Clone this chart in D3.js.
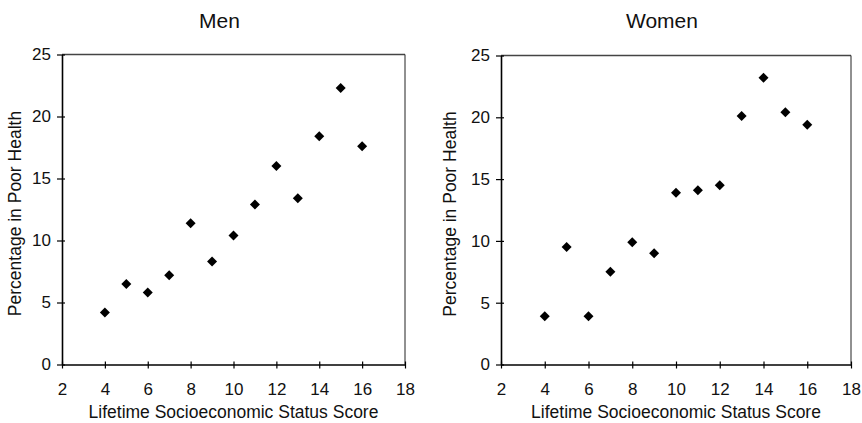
<!DOCTYPE html>
<html>
<head>
<meta charset="utf-8">
<script src="https://cdn.jsdelivr.net/npm/d3@7"></script>
<style>
  html, body { margin: 0; padding: 0; background: #fff; }
  svg { display: block; font-family: "Liberation Sans", Arial, Helvetica, sans-serif; }
</style>
</head>
<body>
<svg id="chart" width="862" height="423"></svg>
<script>
// Lifetime socioeconomic status score (x) for each group
const scores = [4, 5, 6, 7, 8, 9, 10, 11, 12, 13, 14, 15, 16];
// Percentage in poor health, men
const menPct = [4.2, 6.5, 5.8, 7.2, 11.4, 8.3, 10.4, 12.9, 16.0, 13.4, 18.4, 22.3, 17.6];
// Percentage in poor health, women
const womenPct = [3.9, 9.5, 3.9, 7.5, 9.9, 9.0, 13.9, 14.1, 14.5, 20.1, 23.2, 20.4, 19.4];
// Axis ticks
const xTicks = [2, 4, 6, 8, 10, 12, 14, 16, 18];
const yTicks = [0, 5, 10, 15, 20, 25];
const titles = ["Men", "Women"];
const xLabel = "Lifetime Socioeconomic Status Score";
const yLabel = "Percentage in Poor Health";

const svg = d3.select("#chart");

// plot-area geometry for the two panels
const panels = [
  { title: titles[0], values: menPct,   left: 62,  right: 405, top: 54.5, bottom: 364.5, yLabelX: 21 },
  { title: titles[1], values: womenPct, left: 501, right: 851, top: 55.5, bottom: 364.5, yLabelX: 456 }
];

panels.forEach(p => {
  const x = d3.scaleLinear().domain([2, 18]).range([p.left, p.right]);
  const y = d3.scaleLinear().domain([0, 25]).range([p.bottom, p.top]);
  const g = svg.append("g");

  // frame: top and right edges
  g.append("line").attr("x1", p.left).attr("x2", p.right).attr("y1", p.top).attr("y2", p.top)
    .attr("stroke", "#444").attr("stroke-width", 1.3);
  g.append("line").attr("x1", p.right).attr("x2", p.right).attr("y1", p.top).attr("y2", p.bottom)
    .attr("stroke", "#222").attr("stroke-width", 1);

  // x axis
  const xa = g.append("g").attr("transform", `translate(0,${p.bottom})`)
    .call(d3.axisBottom(x).tickValues(xTicks).tickSize(4).tickSizeOuter(0).tickPadding(14));
  xa.select(".domain").attr("stroke", "#000").attr("stroke-width", 1.6);
  xa.selectAll(".tick line").attr("y1", -3).attr("y2", 4).attr("stroke", "#000").attr("stroke-width", 1.2);
  xa.selectAll(".tick text").attr("font-size", 17).attr("fill", "#111")
    .attr("font-family", "Liberation Sans, Arial, sans-serif");

  // y axis
  const ya = g.append("g").attr("transform", `translate(${p.left},0)`)
    .call(d3.axisLeft(y).tickValues(yTicks).tickSize(5).tickSizeOuter(0).tickPadding(6));
  ya.select(".domain").attr("stroke", "#000").attr("stroke-width", 1.6);
  ya.selectAll(".tick line").attr("x1", -5).attr("x2", 3).attr("stroke", "#000").attr("stroke-width", 1.2);
  ya.selectAll(".tick text").attr("font-size", 17).attr("fill", "#111")
    .attr("font-family", "Liberation Sans, Arial, sans-serif");

  // title
  g.append("text").attr("x", (p.left + p.right) / 2 - 14).attr("y", 28)
    .attr("text-anchor", "middle").attr("font-size", 21).attr("fill", "#111").text(p.title);

  // axis labels
  g.append("text").attr("x", (p.left + p.right) / 2).attr("y", 418)
    .attr("text-anchor", "middle").attr("font-size", 17.5).attr("fill", "#111").text(xLabel);
  g.append("text")
    .attr("transform", `translate(${p.yLabelX},${(p.top + p.bottom) / 2 + 4}) rotate(-90)`)
    .attr("text-anchor", "middle").attr("font-size", 17.5).attr("fill", "#111").text(yLabel);

  // diamond markers
  const diamond = d3.symbol().type(d3.symbolSquare).size(50);
  g.selectAll("path.pt").data(scores.map((s, i) => [s, p.values[i]])).join("path")
    .attr("class", "pt")
    .attr("d", diamond)
    .attr("transform", d => `translate(${x(d[0])},${y(d[1])}) rotate(45)`)
    .attr("fill", "#000");
});
</script>
</body>
</html>
